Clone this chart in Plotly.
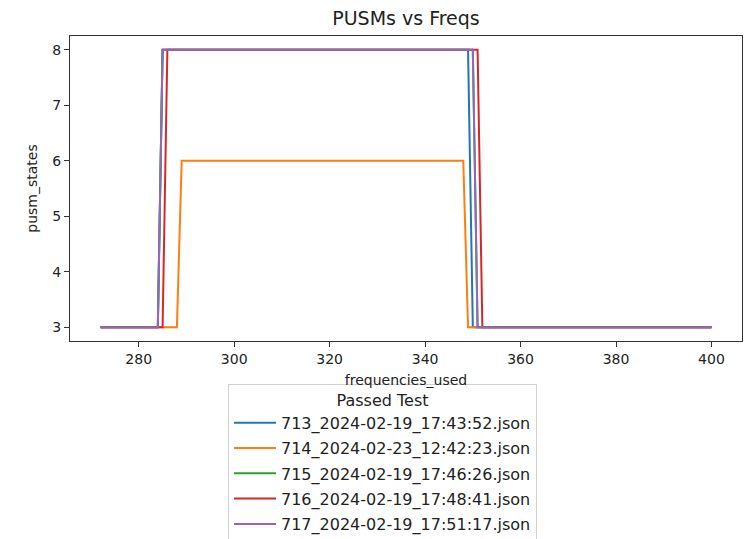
import plotly.graph_objects as go

# Data: breakpoints of each step series (frequency, pusm state)
names = [
    "713_2024-02-19_17:43:52.json",
    "714_2024-02-23_12:42:23.json",
    "715_2024-02-19_17:46:26.json",
    "716_2024-02-19_17:48:41.json",
    "717_2024-02-19_17:51:17.json",
]
freq_713 = [272, 284, 285, 349, 350, 400]
pusm_713 = [3, 3, 8, 8, 3, 3]
freq_714 = [272, 288, 289, 348, 349, 400]
pusm_714 = [3, 3, 6, 6, 3, 3]
freq_715 = [272, 284, 285, 350, 351, 400]
pusm_715 = [3, 3, 8, 8, 3, 3]
freq_716 = [272, 285, 286, 351, 352, 400]
pusm_716 = [3, 3, 8, 8, 3, 3]
freq_717 = [272, 284, 285, 350, 351, 400]
pusm_717 = [3, 3, 8, 8, 3, 3]

x_ticks = [280, 300, 320, 340, 360, 380, 400]
y_ticks = [3, 4, 5, 6, 7, 8]

colors = ["#1f77b4", "#ff7f0e", "#2ca02c", "#d62728", "#9467bd"]
series_x = [freq_713, freq_714, freq_715, freq_716, freq_717]
series_y = [pusm_713, pusm_714, pusm_715, pusm_716, pusm_717]

FONT = "DejaVu Sans"
TXT = "#222222"

fig = go.Figure()
for i, (nm, xs, ys, c) in enumerate(zip(names, series_x, series_y, colors)):
    fig.add_trace(go.Scatter(
        x=xs, y=ys, mode="lines", name=nm,
        line=dict(color=c, width=2),
        legendgroup=f"g{i}",
    ))

axis_common = dict(
    showline=True, linecolor="#333333", linewidth=1.2, mirror=True,
    ticks="outside", ticklen=5, tickwidth=1.2, tickcolor="#333333",
    showgrid=False, zeroline=False, automargin=False,
    tickfont=dict(family=FONT, size=14, color=TXT),
)

fig.update_layout(
    width=746, height=539,
    margin=dict(l=70, r=4, t=36, b=198, autoexpand=False),
    paper_bgcolor="white", plot_bgcolor="white",
    font=dict(family=FONT, size=14, color=TXT),
    title=dict(text="PUSMs vs Freqs", x=0.5, xref="paper", xanchor="center",
               y=1 - 18 / 539, yref="container", yanchor="middle",
               automargin=False,
               font=dict(family=FONT, size=19, color=TXT)),
    xaxis=dict(range=[265.6, 406.4], tickvals=x_ticks,
               title=dict(text="frequencies_used", standoff=9,
                          font=dict(family=FONT, size=14, color=TXT)),
               **axis_common),
    yaxis=dict(range=[2.75, 8.25], tickvals=y_ticks,
               title=dict(text="pusm_states", standoff=11,
                          font=dict(family=FONT, size=14, color=TXT)),
               **axis_common),
    showlegend=True,
    legend=dict(
        x=(228 - 70) / 672, y=(341 - 384) / 305, xanchor="left", yanchor="top",
        xref="paper", yref="paper",
        bgcolor="rgba(255,255,255,0.85)", bordercolor="#d0d0d0", borderwidth=1,
        title=dict(text="Passed Test", side="top center",
                   font=dict(family=FONT, size=16, color=TXT)),
        font=dict(family=FONT, size=16, color=TXT),
        traceorder="grouped", tracegroupgap=1.5,
        itemwidth=42,
    ),
)

fig.write_html(
    "out.html",
    config={"displayModeBar": False},
    post_script="document.body.style.margin='0';document.body.style.padding='0';",
)
